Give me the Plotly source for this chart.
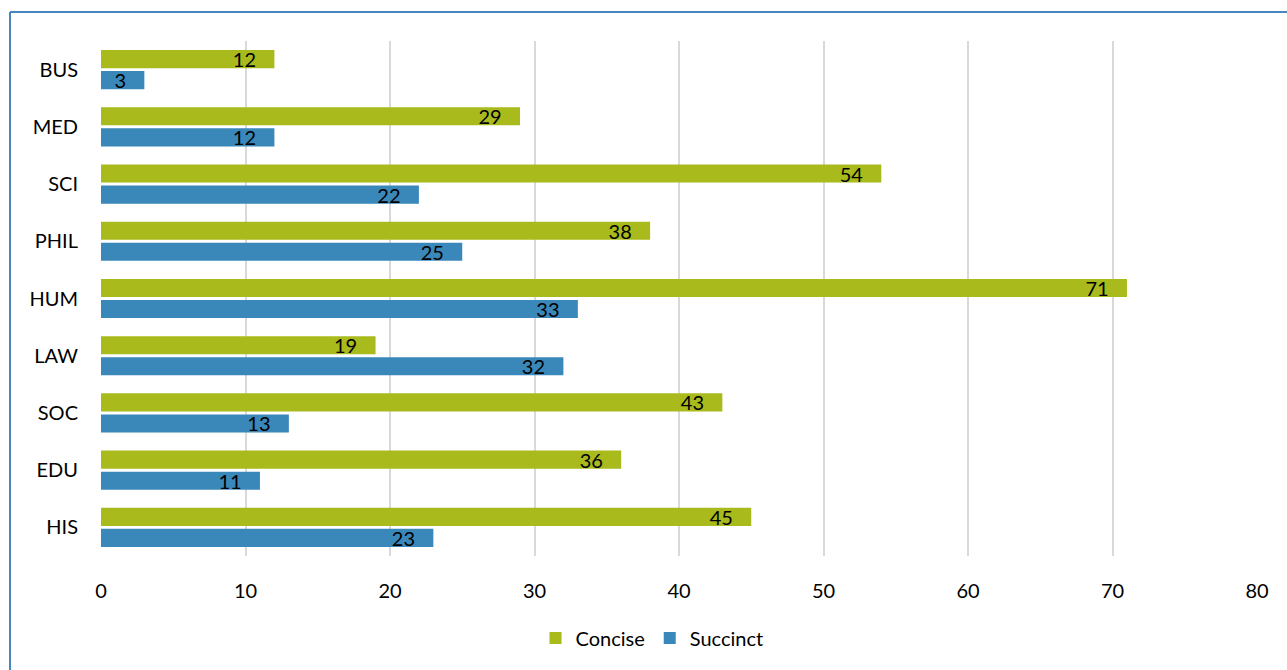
import plotly.graph_objects as go

categories = ["HIS", "EDU", "SOC", "LAW", "HUM", "PHIL", "SCI", "MED", "BUS"]
concise = [45, 36, 43, 19, 71, 38, 54, 29, 12]
succinct = [23, 11, 13, 32, 33, 25, 22, 12, 3]
x_ticks = [0, 10, 20, 30, 40, 50, 60, 70, 80]

FONT = "Lato"
FS = 20
W, H = 1287, 670
L, R, T, B = 101, 30, 41, 114

fig = go.Figure()
fig.add_trace(go.Bar(
    name="Succinct", y=categories, x=succinct, orientation="h",
    marker=dict(color="#3A87BA", line=dict(width=0)),
    text=succinct, texttemplate="%{x}\u00a0\u00a0\u00a0", textposition="inside",
    insidetextanchor="end", textfont=dict(color="black", size=FS, family=FONT),
    constraintext="none",
))
fig.add_trace(go.Bar(
    name="Concise", y=categories, x=concise, orientation="h",
    marker=dict(color="#A8BA1C", line=dict(width=0)),
    text=concise, texttemplate="%{x}\u00a0\u00a0\u00a0", textposition="inside",
    insidetextanchor="end", textfont=dict(color="black", size=FS, family=FONT),
    constraintext="none",
))

pw = W - L - R
ph = H - T - B
def px2x(p):
    return (p - L) / pw
def py2y(p):
    return (H - B - p) / ph

fig.update_layout(
    width=W, height=H,
    margin=dict(l=L, r=R, t=T, b=B, pad=0),
    paper_bgcolor="white", plot_bgcolor="white",
    barmode="group", bargap=0.264, bargroupgap=0.14,
    font=dict(family=FONT, size=FS, color="black"),
    uniformtext=dict(minsize=FS, mode="show"),
    xaxis=dict(range=[0, 80], tickvals=x_ticks, showgrid=True, gridcolor="#D9D9D9",
               gridwidth=2, zeroline=False, showline=False, ticks="outside",
               ticklen=17, tickcolor="rgba(0,0,0,0)", tickfont=dict(size=FS)),
    yaxis=dict(categoryorder="array", categoryarray=categories, showgrid=False,
               showline=False, ticks="", ticklabelstandoff=22, tickfont=dict(size=FS)),
    legend=dict(orientation="h", x=px2x(652), xanchor="center", y=py2y(638), yanchor="middle",
                traceorder="reversed", font=dict(size=FS), itemwidth=30),
    shapes=[
        dict(type="line", xref="paper", yref="paper", x0=px2x(10), x1=px2x(10),
             y0=py2y(12), y1=py2y(700), line=dict(color="#4A86BE", width=2)),
        dict(type="line", xref="paper", yref="paper", x0=px2x(10), x1=px2x(1300),
             y0=py2y(12), y1=py2y(12), line=dict(color="#4A86BE", width=2)),
    ],
)

fig.write_html("out.html")
